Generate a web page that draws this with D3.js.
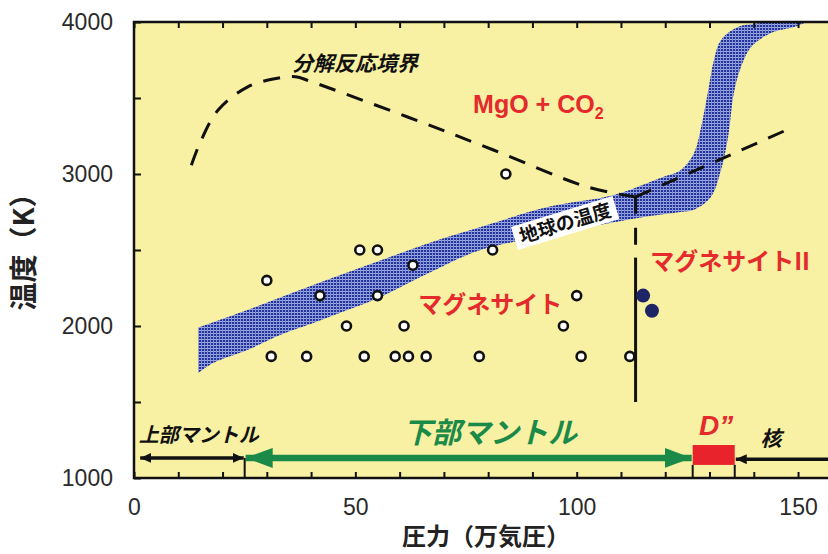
<!DOCTYPE html>
<html>
<head>
<meta charset="utf-8">
<script src="https://cdn.jsdelivr.net/npm/d3@7"></script>
<style>
    body { margin: 0; background: #fff; }
    svg { display: block; }
</style>
</head>
<body>
<div id="chart"></div>
<script>
// pressure (万気圧) vs temperature (K)
const pressureTicks = d3.range(0, 161, 10);
const pressureLabels = [0, 50, 100, 150];
const tempTicks = d3.range(1000, 4001, 500);
const tempLabels = [1000, 2000, 3000, 4000];

// experiment points
const openPoints = [
    [30, 2300], [31, 1800], [39, 1800], [42, 2200], [48, 2000], [51, 2500],
    [52, 1800], [55, 2500], [55, 2200], [59, 1800], [61, 2000], [62, 1800],
    [63, 2400], [66, 1800], [78, 1800], [81, 2500], [84, 3000], [97, 2000],
    [100, 2200], [101, 1800], [112, 1800]
];
const filledPoints = [[115, 2200], [117, 2100]];

// geotherm band edges
const geothermUpper = [
    [14.5, 1990], [25.6, 2105], [40.5, 2270], [54.1, 2414], [66, 2540],
    [78.3, 2651], [93.4, 2783], [108.4, 2862], [119.0, 2975], [123.5, 3026],
    [126.5, 3138], [128.1, 3309], [129.6, 3533], [131.0, 3750], [132.6, 3882],
    [136.4, 3967], [141.6, 3995], [150, 4060]
];
const geothermLower = [
    [14.5, 1691], [17.9, 1757], [25.6, 1842], [33.0, 1941], [40.5, 2020],
    [48.2, 2105], [55.7, 2191], [66, 2340], [78.3, 2500], [96, 2610],
    [113.8, 2711], [123.5, 2750], [126.5, 2765], [130.3, 2849], [132.6, 3026],
    [134.2, 3243], [135.5, 3533], [137.1, 3704], [139.4, 3836], [143.9, 3928],
    [149.1, 3967], [151.4, 3993], [156, 4060]
];

// decomposition boundary (listed from the triple point outwards)
const boundaryLeft = [
    [113.3, 2849], [102.5, 2914], [81.2, 3158], [61.8, 3375], [39.8, 3610],
    [36.5, 3640], [32.4, 3630], [25.6, 3572], [19.0, 3421], [14.9, 3204], [12.9, 3053]
];
const boundaryRight = [[113.3, 2849], [148.2, 3300]];
const transitionSolid = [[113.3, 1500], [113.3, 2450]];
const transitionDashed = [[113.3, 2850], [113.3, 2450]];

// regions along the bottom
const mantleBounds = [25, 126.2, 135.7];

const width = 828;
const height = 554;
const margin = { left: 134, top: 22, bottom: 76 };

const x = d3.scaleLinear().domain([0, 160]).range([margin.left, margin.left + 160 * 4.427]);
const y = d3.scaleLinear().domain([1000, 4000]).range([height - margin.bottom, margin.top]);

const jpFont = "'Noto Sans CJK JP', 'Noto Sans', sans-serif";
const numFont = "'Liberation Sans', Arial, sans-serif";
const red = '#e42a2c';
const green = '#1b8a48';

const svg = d3.select('#chart').append('svg')
    .attr('width', width)
    .attr('height', height);

const defs = svg.append('defs');

defs.append('clipPath').attr('id', 'plot-clip')
    .append('rect')
    .attr('x', x(0)).attr('y', y(4000))
    .attr('width', x(160) - x(0)).attr('height', y(1000) - y(4000));

// crosshatch for the geotherm band
const pat = defs.append('pattern')
    .attr('id', 'hatch')
    .attr('patternUnits', 'userSpaceOnUse')
    .attr('width', 3).attr('height', 3);
pat.append('rect').attr('width', 3).attr('height', 3).attr('fill', '#22339a');
pat.append('rect').attr('width', 3).attr('height', 1).attr('fill', '#9fabe2');
pat.append('rect').attr('width', 1).attr('height', 3).attr('fill', '#8593d6');

function arrowMarker(id, color, len, half) {
    defs.append('marker')
        .attr('id', id)
        .attr('markerUnits', 'userSpaceOnUse')
        .attr('viewBox', `0 ${-half} ${len} ${half * 2}`)
        .attr('refX', len).attr('refY', 0)
        .attr('markerWidth', len).attr('markerHeight', half * 2)
        .attr('orient', 'auto-start-reverse')
        .append('path')
        .attr('d', `M0,${-half} L${len},0 L0,${half} Z`)
        .attr('fill', color);
}
arrowMarker('head-green', green, 27, 10);
arrowMarker('head-black', '#111', 11, 5);

// plot background
svg.append('rect')
    .attr('x', x(0)).attr('y', y(4000))
    .attr('width', x(160) - x(0)).attr('height', y(1000) - y(4000))
    .attr('fill', '#f8f0a2');

const plot = svg.append('g').attr('clip-path', 'url(#plot-clip)');

// geotherm band
const edge = d3.line().x(d => x(d[0])).y(d => y(d[1])).curve(d3.curveCatmullRom);
const bandPath = edge(geothermUpper) + 'L' + edge(geothermLower.slice().reverse()).slice(1) + 'Z';
plot.append('path')
    .attr('d', bandPath)
    .attr('fill', 'url(#hatch)');

// boundaries
const dashed = '17,12';
const straight = d3.line().x(d => x(d[0])).y(d => y(d[1]));
plot.append('path')
    .attr('d', edge(boundaryLeft))
    .attr('fill', 'none').attr('stroke', '#111').attr('stroke-width', 3)
    .attr('stroke-dasharray', dashed);
plot.append('path')
    .attr('d', straight(boundaryRight))
    .attr('fill', 'none').attr('stroke', '#111').attr('stroke-width', 3)
    .attr('stroke-dasharray', dashed);
plot.append('path')
    .attr('d', straight(transitionDashed))
    .attr('fill', 'none').attr('stroke', '#111').attr('stroke-width', 3)
    .attr('stroke-dasharray', '17,14');
plot.append('path')
    .attr('d', straight(transitionSolid))
    .attr('fill', 'none').attr('stroke', '#111').attr('stroke-width', 3);

// geotherm label
const gl = plot.append('g')
    .attr('transform', `translate(${x(97.4)},${y(2678)}) rotate(-17)`);
gl.append('rect')
    .attr('x', -53).attr('y', -12).attr('width', 106).attr('height', 24)
    .attr('fill', '#fff');
gl.append('text')
    .attr('text-anchor', 'middle').attr('dy', '0.36em')
    .attr('font-family', jpFont).attr('font-size', 19).attr('font-weight', 'bold')
    .attr('fill', '#111')
    .text('地球の温度');

// experiment points
plot.selectAll('circle.open')
    .data(openPoints)
    .enter().append('circle')
    .attr('class', 'open')
    .attr('cx', d => x(d[0])).attr('cy', d => y(d[1]))
    .attr('r', 4.5)
    .attr('fill', '#fff').attr('stroke', '#111').attr('stroke-width', 2.6);

plot.selectAll('circle.filled')
    .data(filledPoints)
    .enter().append('circle')
    .attr('class', 'filled')
    .attr('cx', d => x(d[0])).attr('cy', d => y(d[1]))
    .attr('r', 7)
    .attr('fill', '#1d2566');

// region labels
plot.append('text')
    .attr('x', x(35.7)).attr('y', y(3678))
    .attr('font-family', jpFont).attr('font-size', 21).attr('font-style', 'italic')
    .attr('font-weight', 'bold').attr('fill', '#111')
    .text('分解反応境界');

const mgo = plot.append('text')
    .attr('x', x(76.6)).attr('y', y(3401))
    .attr('font-family', numFont).attr('font-size', 25).attr('font-weight', 'bold')
    .attr('fill', red);
mgo.append('tspan').text('MgO + CO');
mgo.append('tspan').attr('font-size', 16).attr('dy', 6).text('2');

plot.append('text')
    .attr('x', x(116.6)).attr('y', y(2368))
    .attr('font-family', jpFont).attr('font-size', 24).attr('font-weight', 'bold')
    .attr('fill', red)
    .text('マグネサイトII');

plot.append('text')
    .attr('x', x(64.2)).attr('y', y(2086))
    .attr('font-family', jpFont).attr('font-size', 24).attr('font-weight', 'bold')
    .attr('fill', red)
    .text('マグネサイト');

// mantle / core bar along the bottom
const barT = 1132;
plot.append('line')
    .attr('x1', x(1.4)).attr('x2', x(mantleBounds[0]) - 1)
    .attr('y1', y(barT)).attr('y2', y(barT))
    .attr('stroke', '#111').attr('stroke-width', 3.5)
    .attr('marker-start', 'url(#head-black)')
    .attr('marker-end', 'url(#head-black)');

plot.append('line')
    .attr('x1', x(mantleBounds[0]) + 1).attr('x2', x(mantleBounds[1]) - 1)
    .attr('y1', y(barT)).attr('y2', y(barT))
    .attr('stroke', green).attr('stroke-width', 6.5)
    .attr('marker-start', 'url(#head-green)')
    .attr('marker-end', 'url(#head-green)');

plot.append('line')
    .attr('x1', x(160)).attr('x2', x(mantleBounds[2]) + 1)
    .attr('y1', y(barT - 8)).attr('y2', y(barT - 8))
    .attr('stroke', '#111').attr('stroke-width', 3.5)
    .attr('marker-end', 'url(#head-black)');

plot.append('rect')
    .attr('x', x(mantleBounds[1])).attr('y', y(1217))
    .attr('width', x(mantleBounds[2]) - x(mantleBounds[1]))
    .attr('height', y(1086) - y(1217))
    .attr('fill', '#e8232b');

plot.selectAll('line.bound')
    .data(mantleBounds)
    .enter().append('line')
    .attr('class', 'bound')
    .attr('x1', d => x(d)).attr('x2', d => x(d))
    .attr('y1', (d, i) => y(i === 0 ? barT : 1086)).attr('y2', y(1000))
    .attr('stroke', '#111').attr('stroke-width', 2);

plot.append('text')
    .attr('x', x(1.1)).attr('y', y(1237))
    .attr('font-family', jpFont).attr('font-size', 20).attr('font-style', 'italic')
    .attr('font-weight', 'bold').attr('fill', '#111')
    .text('上部マントル');

plot.append('text')
    .attr('x', x(80.4)).attr('y', y(1230))
    .attr('text-anchor', 'middle')
    .attr('font-family', jpFont).attr('font-size', 29).attr('font-style', 'italic')
    .attr('font-weight', 'bold').attr('fill', green)
    .text('下部マントル');

plot.append('text')
    .attr('x', x(131.5)).attr('y', y(1283))
    .attr('text-anchor', 'middle')
    .attr('font-family', numFont).attr('font-size', 28).attr('font-style', 'italic')
    .attr('font-weight', 'bold').attr('fill', red)
    .text('D\u201D');

plot.append('text')
    .attr('x', x(143.9)).attr('y', y(1210))
    .attr('text-anchor', 'middle')
    .attr('font-family', jpFont).attr('font-size', 21).attr('font-style', 'italic')
    .attr('font-weight', 'bold').attr('fill', '#111')
    .text('核');

// frame
svg.append('rect')
    .attr('x', x(0)).attr('y', y(4000))
    .attr('width', x(160) - x(0)).attr('height', y(1000) - y(4000))
    .attr('fill', 'none').attr('stroke', '#111').attr('stroke-width', 2.5);

// axes
const xAxis = svg.append('g')
    .attr('transform', `translate(0,${y(1000)})`)
    .call(d3.axisBottom(x)
        .tickValues(pressureTicks)
        .tickSizeInner(-6).tickSizeOuter(0).tickPadding(21)
        .tickFormat(d => pressureLabels.includes(d) ? d : ''));

const xAxisTop = svg.append('g')
    .attr('transform', `translate(0,${y(4000)})`)
    .call(d3.axisTop(x)
        .tickValues(pressureTicks)
        .tickSizeInner(-6).tickSizeOuter(0)
        .tickFormat(''));

const yAxis = svg.append('g')
    .attr('transform', `translate(${x(0)},0)`)
    .call(d3.axisLeft(y)
        .tickValues(tempTicks)
        .tickSizeInner(-7).tickSizeOuter(0).tickPadding(21)
        .tickFormat(d => tempLabels.includes(d) ? d : ''));

[xAxis, xAxisTop, yAxis].forEach(a => {
    a.select('.domain').remove();
    a.selectAll('.tick line').attr('stroke', '#111').attr('stroke-width', 2);
    a.selectAll('.tick text')
        .attr('font-family', numFont).attr('font-size', 23).attr('fill', '#2a2a2a');
});

// axis titles
svg.append('text')
    .attr('x', 486).attr('y', 545)
    .attr('text-anchor', 'middle')
    .attr('font-family', jpFont).attr('font-size', 24).attr('font-weight', 'bold')
    .attr('fill', '#222')
    .text('圧力（万気圧）');

svg.append('text')
    .attr('transform', 'translate(34,245) rotate(-90)')
    .attr('text-anchor', 'middle')
    .attr('font-family', jpFont).attr('font-size', 28).attr('font-weight', 'bold')
    .attr('fill', '#222')
    .text('温度（K）');
</script>
</body>
</html>
